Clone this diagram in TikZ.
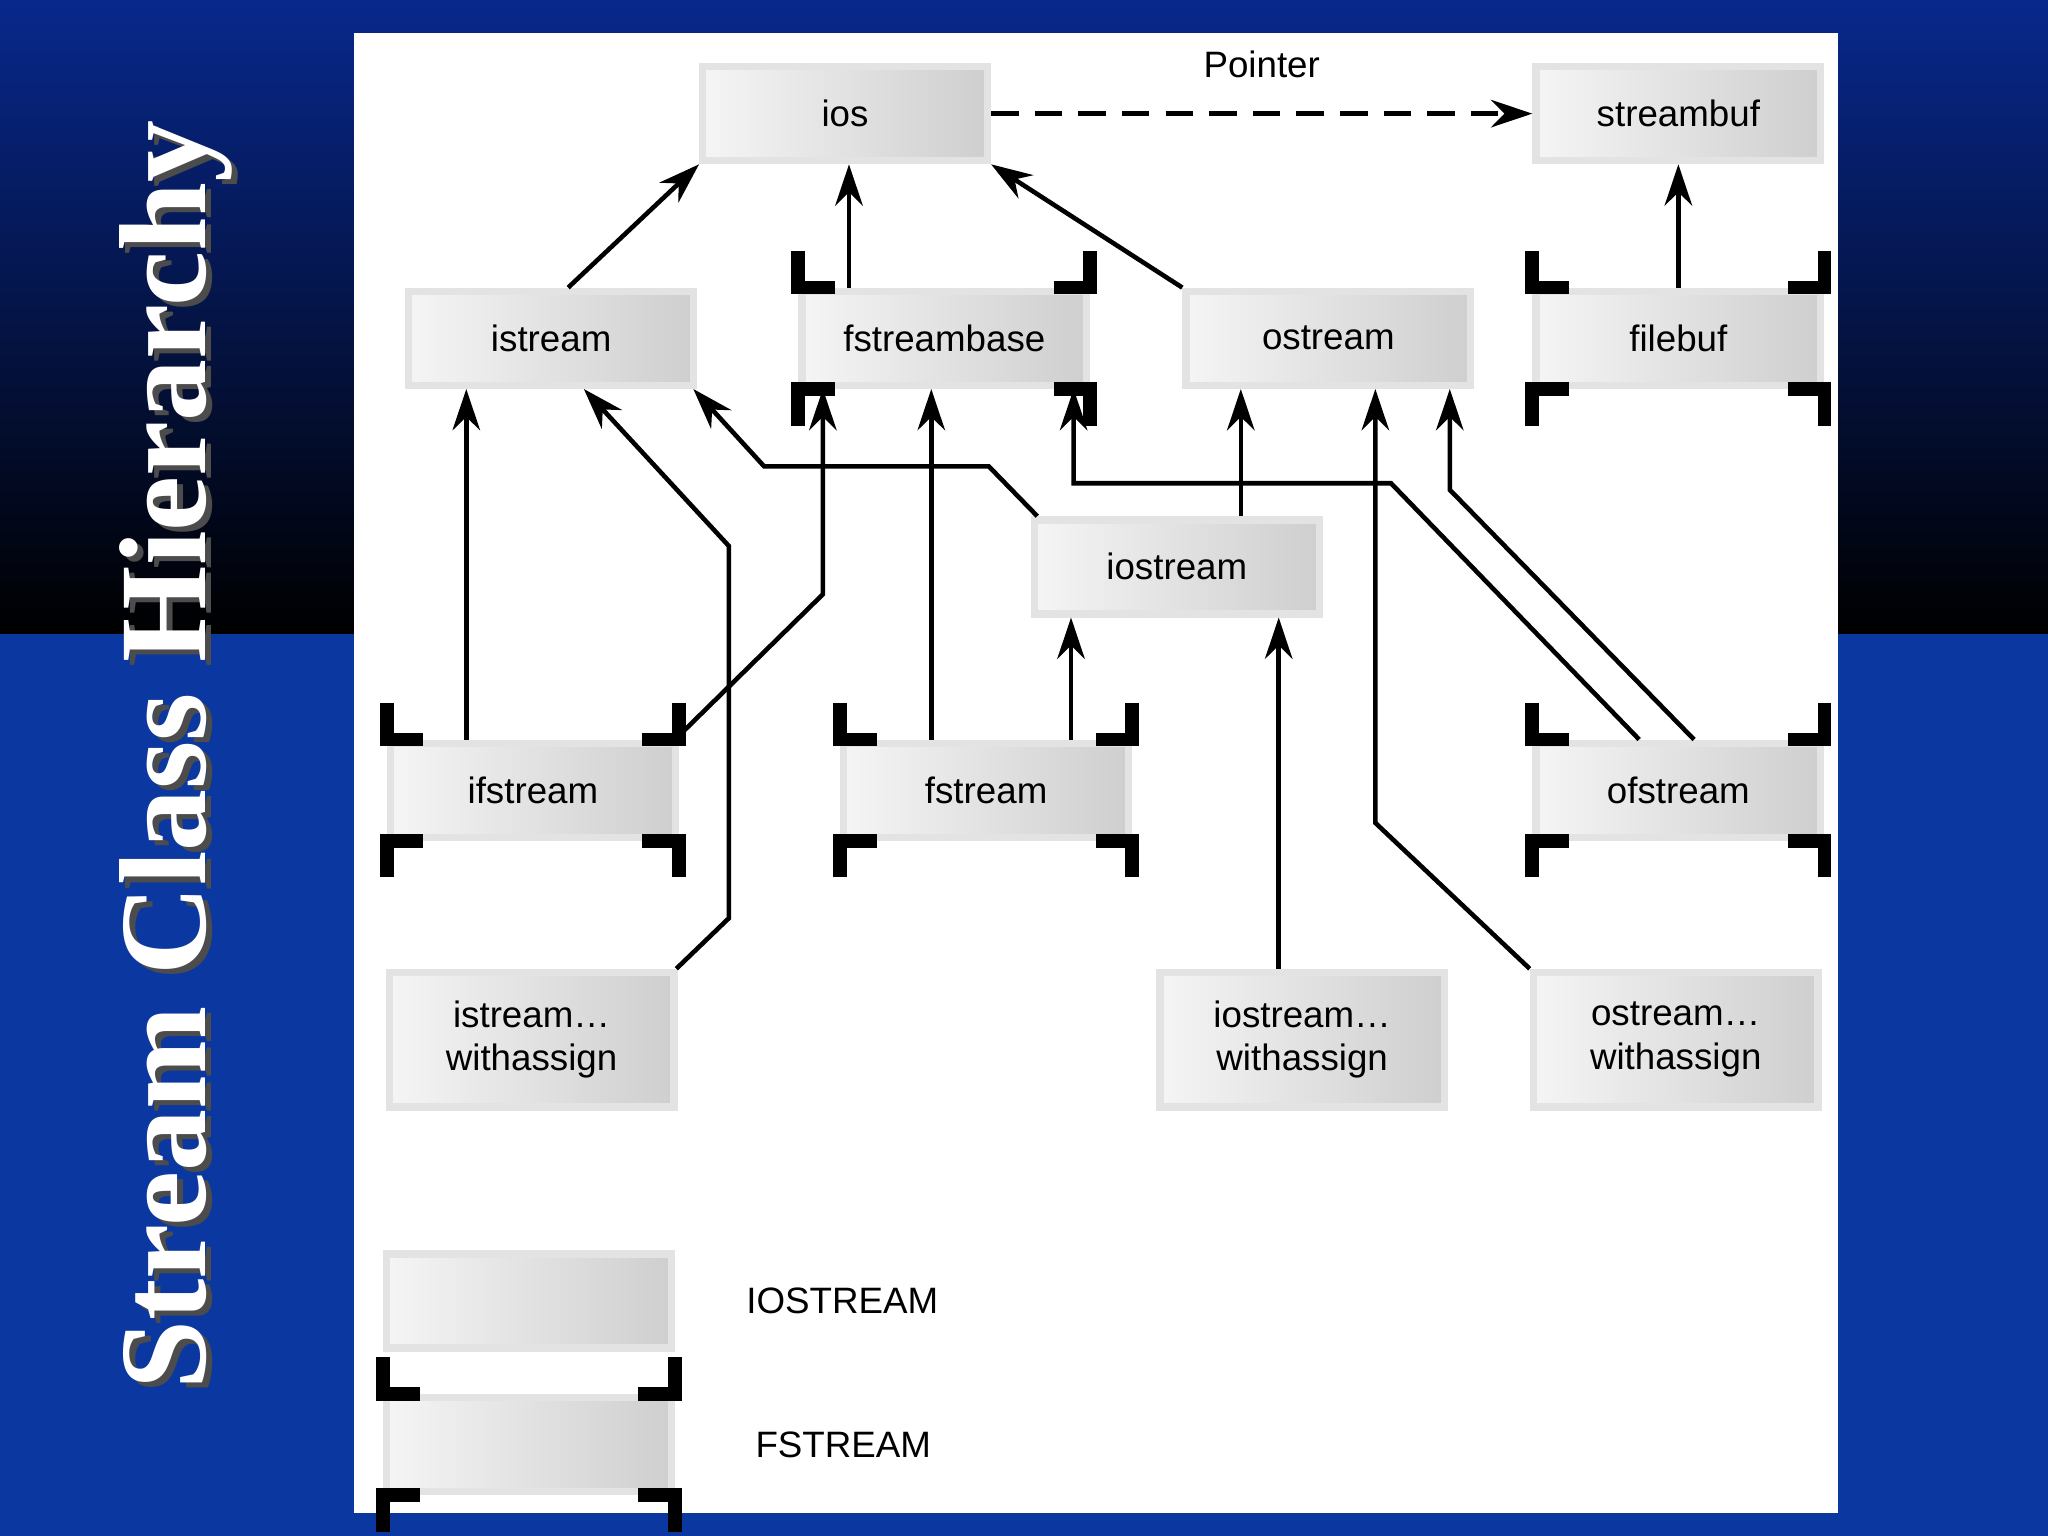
\documentclass[tikz,border=0pt]{standalone}
\usepackage{fontspec}
\setmainfont{Liberation Sans}
\newfontfamily\titlefont{Liberation Serif}
\usetikzlibrary{arrows.meta,calc,positioning}
\definecolor{slideblue}{RGB}{11,56,160}
\definecolor{slidetop}{RGB}{8,40,140}
\tikzset{
  cls/.style={draw=gray!22, line width=1.6pt, left color=gray!8, right color=gray!38,
    minimum width=2.18cm, minimum height=0.72cm, inner sep=0pt, align=center,
    font=\fontsize{8}{9.5}\selectfont},
  tall/.style={minimum height=1.03cm},
  inh/.style={-{Stealth[length=9pt,width=6pt]}, line width=1pt, black},
  ptr/.style={inh, dashed, dash pattern=on 6pt off 3.5pt},
  bracket/.style={line width=3pt, black, line cap=butt},
}
% black corner marks of the fstream boxes
\newcommand\fsmarks[1]{%
  \draw[bracket] ($(#1.north west)+(0,-28)$) |- ($(#1.north west)+(28,0)$);
  \draw[bracket] ($(#1.north east)+(0,-28)$) |- ($(#1.north east)+(-28,0)$);
  \draw[bracket] ($(#1.south west)+(0,28)$) |- ($(#1.south west)+(28,0)$);
  \draw[bracket] ($(#1.south east)+(0,28)$) |- ($(#1.south east)+(-28,0)$);}
\begin{document}
\begin{tikzpicture}[x=0.1mm, y=-0.1mm]
\useasboundingbox (0,0) rectangle (1568,1176);
% slide background
\fill[slideblue] (0,0) rectangle (1568,1176);
\shade[top color=slidetop, bottom color=black] (0,0) rectangle (1568,485);
\fill[white] (271,25) rectangle (1407,1158);
\node[rotate=90, text=black!70] at (139,582) {\titlefont\bfseries\fontsize{27}{30}\selectfont Stream Class Hierarchy};
\node[rotate=90, text=white] (title) at (135,578) {\titlefont\bfseries\fontsize{27}{30}\selectfont Stream Class Hierarchy};
% classes
\node[cls] (ios) at (647,87) {ios};
\node[cls] (streambuf) at (1285,87) {streambuf};
\node[cls] (istream) at (422,259) {istream};
\node[cls] (fstreambase) at (723,259) {fstreambase};
\node[cls] (ostream) at (1017,259) {ostream};
\node[cls] (filebuf) at (1285,259) {filebuf};
\node[cls] (iostream) at (901,434) {iostream};
\node[cls] (ifstream) at (408,605) {ifstream};
\node[cls] (fstream) at (755,605) {fstream};
\node[cls] (ofstream) at (1285,605) {ofstream};
\node[cls, tall] (iswa) at (407,796) {istream\dots\\withassign};
\node[cls, tall] (ioswa) at (997,796) {iostream\dots\\withassign};
\node[cls, tall] (oswa) at (1283,796) {ostream\dots\\withassign};
% legend
\node[cls] (legio) at (405,996) {};
\node[cls] (legfs) at (405,1106) {};
\node[right=12pt of legio, font=\fontsize{8}{9.5}\selectfont] (legiotext) {IOSTREAM};
\node[right=14pt of legfs, font=\fontsize{8}{9.5}\selectfont] (legfstext) {FSTREAM};
\fsmarks{fstreambase}
\fsmarks{filebuf}
\fsmarks{ifstream}
\fsmarks{fstream}
\fsmarks{ofstream}
\fsmarks{legfs}
% connectors
\draw[ptr] (ios.east) -- (streambuf.west) node[midway, above=4pt, font=\fontsize{8}{9.5}\selectfont] (ptrlabel) {Pointer};
\draw[inh] ($(istream.north)+(13,0)$) -- (ios.south west);
\draw[inh] ($(fstreambase.north)+(-73,0)$) -- ($(ios.south)+(3,0)$);
\draw[inh] (ostream.north west) -- (ios.south east);
\draw[inh] (filebuf.north) -- (streambuf.south);
\draw[inh] ($(ifstream.north)+(-51,0)$) -- ($(istream.south)+(-65,0)$);
\draw[inh] ($(ifstream.north east)+(-3,0)$) -- (630,455) -- ($(fstreambase.south)+(-93,0)$);
\draw[inh] ($(iswa.north east)+(-1,0)$) -- (558,703) -- (558,418) -- ($(istream.south)+(25,0)$);
\draw[inh] ($(iostream.north west)+(5,0)$) -- (757,357) -- (585,357) -- ($(istream.south east)+(-3,0)$);
\draw[inh] ($(iostream.north)+(49,0)$) -- ($(ostream.south)+(-67,0)$);
\draw[inh] ($(fstream.north)+(-42,0)$) -- ($(fstreambase.south)+(-10,0)$);
\draw[inh] ($(fstream.north)+(65,0)$) -- ($(iostream.south)+(-81,0)$);
\draw[inh] ($(ioswa.north)+(-18,0)$) -- ($(iostream.south)+(78,0)$);
\draw[inh] (oswa.north west) -- (1053,630) -- ($(ostream.south)+(36,0)$);
\draw[inh] ($(ofstream.north)+(-30,0)$) -- (1065,370) -- (822,370) -- ($(fstreambase.south)+(99,0)$);
\draw[inh] ($(ofstream.north)+(12,0)$) -- (1110,375) -- ($(ostream.south)+(93,0)$);
\end{tikzpicture}
\end{document}
